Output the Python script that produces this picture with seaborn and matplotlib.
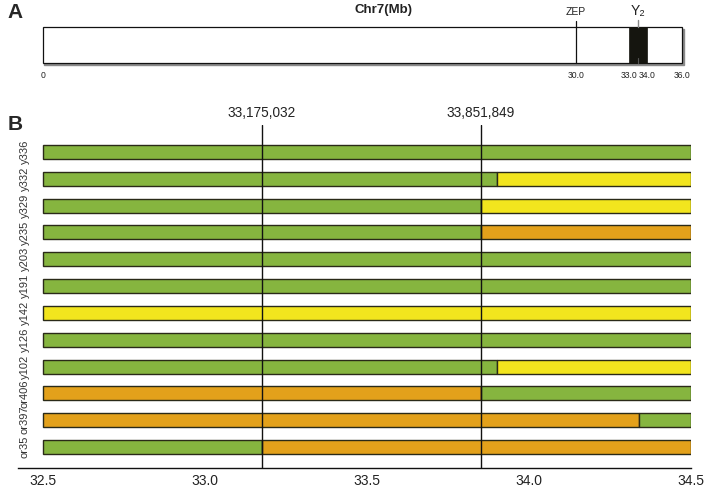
import matplotlib
matplotlib.use("Agg")
import matplotlib.pyplot as plt
import matplotlib.transforms as mtransforms
from matplotlib.patches import Rectangle
import seaborn as sns

sns.set_style("white")
plt.rcParams['font.family'] = ['Liberation Sans', 'DejaVu Sans']

# ---------------- data ----------------
# Panel A: chromosome 7 overview (Mb)
chrom_start = 0.0
chrom_end = 36.0
zep_pos = 30.0
y2_start = 33.0
y2_end = 34.0
overview_ticks = [0.0, 30.0, 33.0, 34.0, 36.0]
overview_tick_labels = ["0", "30.0", "33.0", "34.0", "36.0"]

# Panel B: recombinant lines, genotype blocks (Mb)
samples = ["y336", "y332", "y329", "y235", "y203", "y191",
           "y142", "y126", "y102", "or406", "or397", "or35"]
region_start = 32.5
region_end = 34.5
first_geno = ["G", "G", "G", "G", "G", "G", "Y", "G", "G", "O", "O", "G"]
breakpoint = [None, 33.90, 33.852, 33.852, None, None,
              None, None, 33.90, 33.852, 34.34, 33.175]
second_geno = [None, "Y", "Y", "O", None, None,
               None, None, "Y", "G", "G", "O"]
markers = [33.175032, 33.851849]
marker_labels = ["33,175,032", "33,851,849"]
xticks_b = [32.5, 33.0, 33.5, 34.0, 34.5]

geno_colors = {"G": "#86b53f", "Y": "#f2e51e", "O": "#e3a11b"}
edge = "#2a2a18"

# ---------------- figure ----------------
W, H = 711, 488
fig = plt.figure(figsize=(W / 100, H / 100), dpi=100)

def fig_rect(l, t, r, b):
    return [l / W, 1 - b / H, (r - l) / W, (b - t) / H]

# ---- Panel A ----
a_off, a_scale = 42.7, 17.766
axA = fig.add_axes(fig_rect(10, 0, 700, 80))
axA.set_xlim((10 - a_off) / a_scale, (700 - a_off) / a_scale)
axA.set_ylim(80, 0)
axA.axis("off")

axA.add_patch(Rectangle((chrom_start + 0.08, 28.5), chrom_end - chrom_start, 36,
                        facecolor="#8a8a8a", edgecolor="#8a8a8a", lw=1.0, zorder=1))
axA.add_patch(Rectangle((chrom_start, 27), chrom_end - chrom_start, 36,
                        facecolor="white", edgecolor="#111111", lw=0.9, zorder=2))
axA.add_patch(Rectangle((y2_start, 27), y2_end - y2_start, 36,
                        facecolor="#15150f", edgecolor="#15150f", lw=0.5, zorder=3))
axA.plot([zep_pos, zep_pos], [21, 63], color="#111111", lw=0.9, zorder=4)
y2_mid = (y2_start + y2_end) / 2
axA.plot([y2_mid, y2_mid], [20, 27], color="#888888", lw=1.0, zorder=4)
axA.plot([y2_mid, y2_mid], [58, 63], color="#555555", lw=0.8, zorder=4)
axA.text(zep_pos, 12, "ZEP", ha="center", va="center", fontsize=7.5, color="#222222")
axA.text(y2_mid, 11, "Y₂", ha="center", va="center", fontsize=10, color="#222222")
axA.text(0.5406, 10, "Chr7(Mb)", transform=mtransforms.blended_transform_factory(axA.transAxes, axA.transData),
         ha="center", va="center", fontsize=9.5, fontweight="bold", color="#222222")
for t, lab in zip(overview_ticks, overview_tick_labels):
    axA.text(t, 76, lab, ha="center", va="center", fontsize=6.2, color="#222222")

# ---- Panel B ----
axB = fig.add_axes(fig_rect(18, 125, 691, 468))
x_left = region_start - 25 / 324
axB.set_xlim(x_left, region_end)
row_sp = 26.8
axB.set_ylim(11 + (468 - 447) / row_sp, -(152 - 125) / row_sp)
bar_h = 14 / row_sp

for i, s in enumerate(samples):
    bp = breakpoint[i]
    if bp is None:
        axB.barh(i, region_end - region_start, left=region_start, height=bar_h,
                 color=geno_colors[first_geno[i]], edgecolor=edge, lw=1.0, zorder=2)
    else:
        axB.barh(i, bp - region_start, left=region_start, height=bar_h,
                 color=geno_colors[first_geno[i]], edgecolor=edge, lw=1.0, zorder=2)
        axB.barh(i, region_end - bp, left=bp, height=bar_h,
                 color=geno_colors[second_geno[i]], edgecolor=edge, lw=1.0, zorder=2)

blend = mtransforms.blended_transform_factory(axB.transData, axB.transAxes)
for m, lab in zip(markers, marker_labels):
    axB.axvline(m, ymin=0, ymax=1, color="#111111", lw=1.0, zorder=3)
    axB.text(m, 1.035, lab, transform=blend, ha="center", va="center",
             fontsize=9.8, color="#222222", clip_on=False)

blend_y = mtransforms.blended_transform_factory(axB.transAxes, axB.transData)
for i, s in enumerate(samples):
    axB.text(7 / 673, i, s, transform=blend_y, rotation=90, ha="center", va="center",
             fontsize=8, color="#333333")

for sp in ["top", "right", "left"]:
    axB.spines[sp].set_visible(False)
axB.spines["bottom"].set_color("#111111")
axB.spines["bottom"].set_linewidth(1.0)
axB.set_yticks([])
axB.set_xticks(xticks_b)
axB.set_xticklabels([f"{v:.1f}" for v in xticks_b])
axB.tick_params(axis="x", length=0, pad=4, labelsize=10, labelcolor="#222222")

fig.text(15 / W, 1 - 13 / H, "A", fontsize=15, fontweight="bold", ha="center", va="center")
fig.text(15 / W, 1 - 125 / H, "B", fontsize=15, fontweight="bold", ha="center", va="center")

fig.savefig("out.png", dpi=100)
